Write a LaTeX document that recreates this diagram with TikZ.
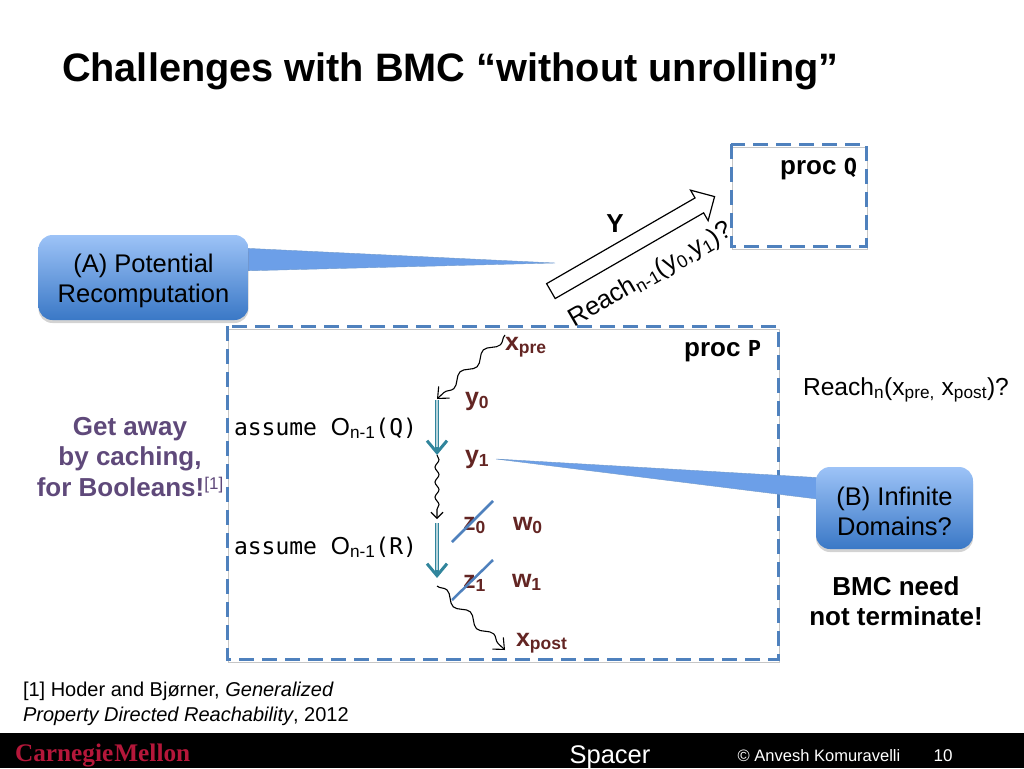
\documentclass[tikz,border=0pt]{standalone}
\usepackage{fontspec}
\setmainfont{Liberation Sans}
\setmonofont{DejaVu Sans Mono}
\usetikzlibrary{calc,shapes.arrows,arrows.meta,decorations.pathmorphing,shadows}
\definecolor{dashblue}{HTML}{4F81BD}
\definecolor{calloutblue}{HTML}{6C9FE8}
\definecolor{calloutlight}{HTML}{9DC3F7}
\definecolor{calloutdark}{HTML}{3A78C6}
\definecolor{varred}{HTML}{632523}
\definecolor{awaypurple}{HTML}{5F497A}
\definecolor{stepteal}{HTML}{31859C}
\definecolor{cmured}{HTML}{B5173A}

\begin{document}
\begin{tikzpicture}[x=1pt,y=-1pt,inner sep=0pt,outer sep=0pt]
\tikzstyle{label}=[anchor=base west,font=\fontsize{24.6}{30}\selectfont]
\tikzstyle{var}=[anchor=base west,text=varred,font=\bfseries\fontsize{25}{30}\selectfont]
\tikzstyle{boldstack}=[align=center,font=\bfseries\fontsize{26}{30.5}\selectfont]
\tikzstyle{proclabel}=[anchor=base east,font=\bfseries\fontsize{26}{30}\selectfont]
\tikzstyle{footer}=[anchor=base,text=white,font=\fontsize{16.5}{22}\selectfont]
\tikzstyle{procbox}=[draw=dashblue,line width=3pt,dash pattern=on 15pt off 8pt,
  preaction={draw=gray!45,transform canvas={xshift=1pt,yshift=-3pt}}]
\tikzstyle{callout}=[rectangle,rounded corners=14pt,top color=calloutlight,bottom color=calloutdark,
  drop shadow={opacity=0.35,shadow xshift=0pt,shadow yshift=-3pt},align=center,font=\fontsize{25.5}{30.5}\selectfont]
\tikzstyle{tail}=[fill=calloutblue,draw=dashblue!80,line width=0.4pt]
\tikzstyle{stepline}=[draw=stepteal,double=stepteal!35,double distance=1.2pt,line width=1.3pt]
\tikzstyle{stephead}=[draw=stepteal,line width=3pt,-{Straight Barb[length=12pt,width=20pt]}]
\tikzstyle{wave}=[decorate,decoration={snake,amplitude=4pt,segment length=32pt,post length=7pt},
  -{Straight Barb[length=9pt,width=16pt]},line width=1.1pt]
\tikzstyle{strike}=[draw=dashblue,line width=2.5pt]

\useasboundingbox (0,0) rectangle (1024,768);
\fill[black] (0,733) rectangle (1024,768);

\node[anchor=base west,font=\bfseries\fontsize{39.7}{44}\selectfont] (title) at (62,81.5) {Challenges with BMC “without unrolling”};

\draw[procbox] (731,144) rectangle (866,246);
\draw[procbox] (227,326) rectangle (778,659);
\node[proclabel] (procq) at (857,174) {proc {\ttfamily\fontsize{22}{26}\selectfont Q}};
\node[proclabel] (procp) at (761,356) {proc {\ttfamily\fontsize{22}{26}\selectfont P}};

\node[draw,line width=1.2pt,fill=white,shape=single arrow,rotate=30,minimum height=189pt,inner ysep=8pt,inner xsep=0pt,
  single arrow head extend=9pt,single arrow tip angle=90,single arrow head indent=0pt] (call) at (629,246) {};
\node[anchor=base,font=\bfseries\fontsize{26}{30}\selectfont] (ylabel) at (615,232) {Y};
\node[anchor=base,rotate=30,font=\fontsize{25.5}{30}\selectfont] (reachq) at (654,281) {Reach\textsubscript{n-1}(y\textsubscript{0},y\textsubscript{1})?};

\coordinate (tailAtop) at (240,248);
\coordinate (tailAbot) at (240,271);
\coordinate (tailAtip) at (555,263);
\fill[tail] (tailAtop) -- (tailAtip) -- (tailAbot) -- cycle;
\node[callout,minimum width=210pt,minimum height=85pt] (calloutA) at (143.5,277.5) {\rule{0pt}{25pt}(A) Potential\\Recomputation};

\coordinate (tailBtop) at (825,478);
\coordinate (tailBbot) at (825,500);
\coordinate (tailBtip) at (496,459);
\fill[tail] (tailBtop) -- (tailBtip) -- (tailBbot) -- cycle;
\node[callout,minimum width=157pt,minimum height=82pt] (calloutB) at (894.5,508) {\rule{0pt}{25pt}(B) Infinite\\Domains?};

\node[boldstack,text=awaypurple] (away) at (130,457) {Get away\\by caching,\\for Booleans!{\mdseries\fontsize{17}{20}\selectfont\raisebox{7pt}{[1]}}};
\node[boldstack] (bmc) at (896,601) {BMC need\\not terminate!};
\node[label] (reachp) at (803,395) {Reach\textsubscript{n}(x\textsubscript{pre,} x\textsubscript{post})?};

\node[label] (assumeq) at (234,435) {{\ttfamily\fontsize{23}{26}\selectfont assume\ }O\textsubscript{n-1}{\ttfamily\fontsize{23}{26}\selectfont (Q)}};
\node[label] (assumer) at (234,554) {{\ttfamily\fontsize{23}{26}\selectfont assume\ }O\textsubscript{n-1}{\ttfamily\fontsize{23}{26}\selectfont (R)}};

\node[var] (xpre) at (505,350) {x\textsubscript{pre}};
\node[var] (y0) at (465,405) {y\textsubscript{0}};
\node[var] (y1) at (465,463) {y\textsubscript{1}};
\node[var] (z0) at (463,530) {z\textsubscript{0}};
\node[var] (w0) at (513,530) {w\textsubscript{0}};
\node[var] (z1) at (463,588) {z\textsubscript{1}};
\node[var] (w1) at (512,587) {w\textsubscript{1}};
\node[var] (xpost) at (516,646) {x\textsubscript{post}};

\coordinate (waveAs) at (505,335);
\coordinate (waveAe) at (437,399);
\coordinate (waveBs) at (437,455);
\coordinate (waveBe) at (437,519);
\coordinate (waveCs) at (437,586);
\coordinate (waveCe) at (505,650);
\draw[wave] (waveAs) -- (waveAe);
\draw[wave,decoration={amplitude=2pt,segment length=15pt,post length=5pt},-{Straight Barb[length=6pt,width=12pt]}] (waveBs) -- (waveBe);
\draw[wave] (waveCs) -- (waveCe);

\coordinate (stepAs) at (437,400);
\coordinate (stepAe) at (437,455);
\coordinate (stepBs) at (437,523);
\coordinate (stepBe) at (437,578);
\draw[stepline] (stepAs) -- ($(stepAe)+(0,-6)$);
\draw[stepline] (stepBs) -- ($(stepBe)+(0,-6)$);
\draw[stephead] ($(stepAe)+(0,-8)$) -- (stepAe);
\draw[stephead] ($(stepBe)+(0,-8)$) -- (stepBe);

\coordinate (strikeAs) at (452,542);
\coordinate (strikeAe) at (493,501);
\coordinate (strikeBs) at (452,600);
\coordinate (strikeBe) at (493,560);
\draw[strike] (strikeAs) -- (strikeAe);
\draw[strike] (strikeBs) -- (strikeBe);

\node[anchor=west,align=left,font=\fontsize{20}{25}\selectfont] (cite) at (23,704) {[1] Hoder and Bjørner, \textit{Generalized}\\\textit{Property Directed Reachability}, 2012};

\node[anchor=base west,text=cmured,font=\bfseries\fontsize{25.3}{28}\selectfont] (logo) at (15,761) {\setmainfont{Liberation Serif}\bfseries Carnegie\hspace{1pt}Mellon};
\node[footer,font=\fontsize{25.5}{30}\selectfont] (spacer) at (610,763) {Spacer};
\node[footer] (author) at (819,761) {© Anvesh Komuravelli};
\node[footer,font=\fontsize{17}{22}\selectfont] (page) at (943,761) {10};
\end{tikzpicture}
\end{document}
